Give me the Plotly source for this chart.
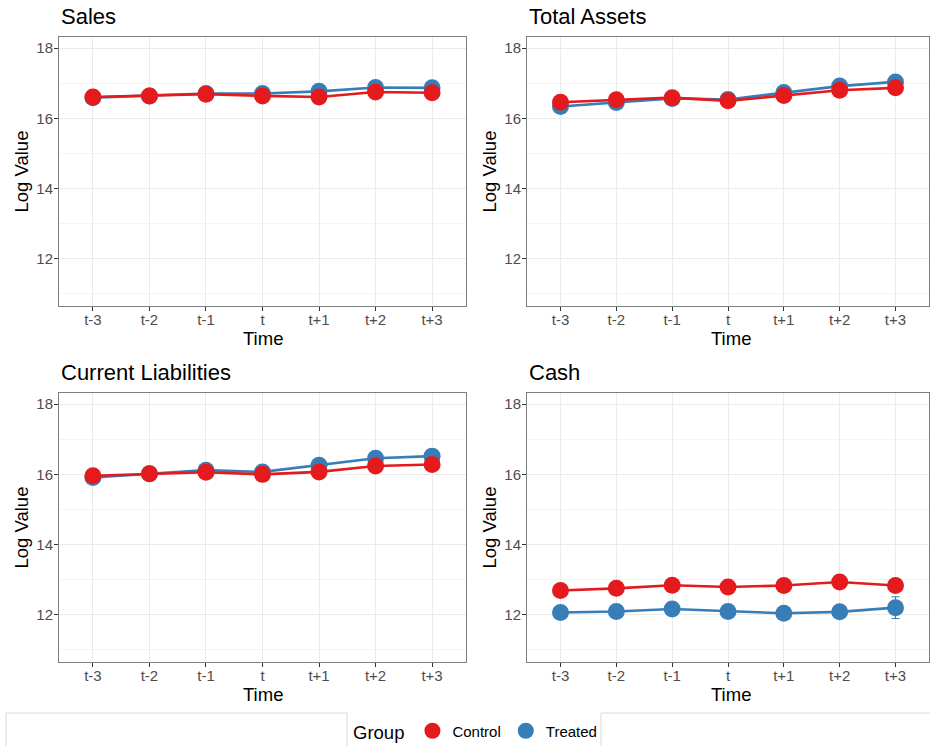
import plotly.graph_objects as go

W, H = 930, 746

time_labels = ["t-3", "t-2", "t-1", "t", "t+1", "t+2", "t+3"]
groups = ["Control", "Treated"]
panel_titles = ["Sales", "Total Assets", "Current Liabilities", "Cash"]

sales_control = [16.61, 16.64, 16.69, 16.64, 16.61, 16.75, 16.73]
sales_treated = [16.59, 16.64, 16.71, 16.71, 16.77, 16.88, 16.87]
assets_control = [16.46, 16.53, 16.59, 16.50, 16.65, 16.80, 16.87]
assets_treated = [16.34, 16.45, 16.57, 16.54, 16.74, 16.92, 17.04]
liab_control = [15.96, 16.02, 16.06, 16.00, 16.07, 16.24, 16.28]
liab_treated = [15.91, 16.02, 16.12, 16.07, 16.26, 16.46, 16.52]
cash_control = [12.69, 12.75, 12.84, 12.79, 12.83, 12.93, 12.83]
cash_treated = [12.06, 12.09, 12.16, 12.09, 12.04, 12.08, 12.20]

sales_se_control = [0.04, 0.04, 0.04, 0.04, 0.04, 0.05, 0.05]
sales_se_treated = [0.05, 0.05, 0.05, 0.05, 0.05, 0.06, 0.07]
assets_se_control = [0.04, 0.04, 0.04, 0.04, 0.04, 0.05, 0.05]
assets_se_treated = [0.05, 0.05, 0.05, 0.05, 0.05, 0.06, 0.07]
liab_se_control = [0.04, 0.04, 0.04, 0.04, 0.04, 0.05, 0.05]
liab_se_treated = [0.05, 0.05, 0.05, 0.05, 0.06, 0.07, 0.08]
cash_se_control = [0.06, 0.06, 0.06, 0.06, 0.07, 0.07, 0.12]
cash_se_treated = [0.08, 0.08, 0.09, 0.09, 0.10, 0.12, 0.31]

panels = [
    (sales_control, sales_treated, sales_se_control, sales_se_treated),
    (assets_control, assets_treated, assets_se_control, assets_se_treated),
    (liab_control, liab_treated, liab_se_control, liab_se_treated),
    (cash_control, cash_treated, cash_se_control, cash_se_treated),
]

colors = {"Control": "#E41A1C", "Treated": "#377EB8"}

# panel pixel boxes: (left, right, top, bottom)
boxes = [(59, 466, 37, 306), (527, 929, 37, 306), (59, 466, 393, 662), (527, 929, 393, 662)]

fig = go.Figure()
FONT = "Liberation Sans, Arial, sans-serif"

for i, (ctrl, trt, se_c, se_t) in enumerate(panels):
    xa = "x" if i == 0 else f"x{i+1}"
    ya = "y" if i == 0 else f"y{i+1}"
    series = {"Control": (ctrl, se_c), "Treated": (trt, se_t)}
    for g in ["Treated", "Control"]:
        fig.add_trace(go.Scatter(
            x=time_labels, y=series[g][0], mode="lines",
            line=dict(color=colors[g], width=2.6),
            xaxis=xa, yaxis=ya, showlegend=False, hoverinfo="skip"))
    for g in ["Treated", "Control"]:
        fig.add_trace(go.Scatter(
            x=time_labels, y=series[g][0], mode="markers",
            marker=dict(color=colors[g], size=17),
            error_y=dict(type="data", array=series[g][1], color=colors[g], thickness=1.2, width=4),
            name=g, legendgroup=g, showlegend=(i == 0),
            legendrank=1 if g == "Control" else 2,
            xaxis=xa, yaxis=ya))

layout = dict(
    width=W, height=H,
    margin=dict(l=0, r=0, t=0, b=0, autoexpand=False),
    paper_bgcolor="white", plot_bgcolor="white",
    font=dict(family=FONT, color="#000000"),
    showlegend=True,
    legend=dict(
        orientation="h", xref="container", yref="container",
        x=351 / W, xanchor="left", y=1 - 732 / H, yanchor="middle",
        title=dict(text="Group", font=dict(size=18.5, color="#000000")),
        font=dict(size=15, color="#000000"),
        bgcolor="rgba(0,0,0,0)", itemwidth=30, tracegroupgap=0,
    ),
)

annotations = []
shapes = []
for i, (l, r, t, b) in enumerate(boxes):
    sfx = "" if i == 0 else str(i + 1)
    layout["xaxis" + sfx] = dict(
        domain=[l / W, r / W], anchor="y" + sfx,
        type="category", categoryorder="array", categoryarray=time_labels,
        range=[-0.6, 6.6], showgrid=True, gridcolor="#EBEBEB", gridwidth=1,
        showline=True, mirror=True, linecolor="#7F7F7F", linewidth=1,
        ticks="outside", ticklen=4, tickcolor="#333333", ticklabelstandoff=-4,
        tickfont=dict(size=15, color="#4D4D4D"), zeroline=False,
    )
    layout["yaxis" + sfx] = dict(
        domain=[1 - b / H, 1 - t / H], anchor="x" + sfx,
        range=[10.65, 18.32], tickvals=[12, 14, 16, 18],
        showgrid=True, gridcolor="#EBEBEB", gridwidth=1,
        minor=dict(tickvals=[11, 13, 15, 17], showgrid=True, gridcolor="#F4F4F4", ticks=""),
        showline=True, mirror=True, linecolor="#7F7F7F", linewidth=1,
        ticks="outside", ticklen=4, tickcolor="#333333", ticklabelstandoff=-2,
        tickfont=dict(size=15, color="#4D4D4D"), zeroline=False,
    )
    annotations.append(dict(
        text=panel_titles[i], xref="paper", yref="paper",
        x=l / W, y=1 - (t - 21) / H, xanchor="left", yanchor="middle",
        showarrow=False, font=dict(size=22, color="#000000")))
    annotations.append(dict(
        text="Log Value", xref="paper", yref="paper",
        x=(l - 38) / W, y=1 - ((t + b) / 2) / H, xanchor="center", yanchor="middle",
        textangle=-90, showarrow=False, font=dict(size=18.5, color="#000000")))
    annotations.append(dict(
        text="Time", xref="paper", yref="paper",
        x=(l + 204) / W, y=1 - (b + 32) / H, xanchor="center", yanchor="middle",
        showarrow=False, font=dict(size=18.5, color="#000000")))

shapes.append(dict(type="rect", xref="paper", yref="paper",
                   x0=6 / W, x1=347 / W, y0=1 - 713 / H, y1=-0.05,
                   line=dict(color="#D9D9D9", width=1), fillcolor="rgba(0,0,0,0)"))
shapes.append(dict(type="rect", xref="paper", yref="paper",
                   x0=601 / W, x1=1.05, y0=1 - 713 / H, y1=-0.05,
                   line=dict(color="#D9D9D9", width=1), fillcolor="rgba(0,0,0,0)"))

layout["annotations"] = annotations
layout["shapes"] = shapes
fig.update_layout(**layout)

post = (
    "var de=document.documentElement, bd=document.body;"
    "de.style.margin='0';de.style.padding='0';de.style.overflow='hidden';"
    "de.style.height='746px';de.style.width='930px';"
    "bd.style.margin='0';bd.style.padding='0';bd.style.overflow='hidden';"
    "bd.style.height='746px';bd.style.width='930px';"
    "var gd=document.getElementById('{plot_id}');"
    "if(gd&&gd.parentElement){gd.parentElement.style.height='746px';"
    "gd.parentElement.style.overflow='hidden';gd.style.display='block';}"
)
fig.write_html("out.html", config={"displayModeBar": False}, post_script=post)
